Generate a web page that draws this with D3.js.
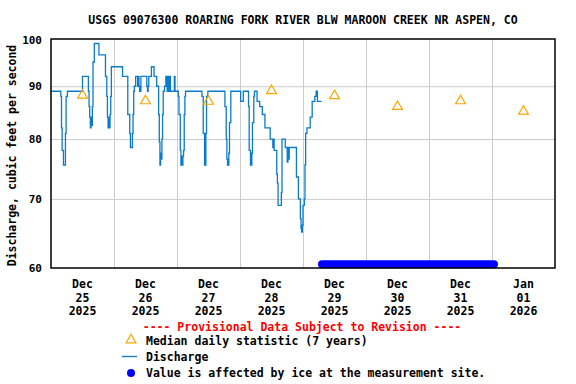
<!DOCTYPE html>
<html>
<head>
<meta charset="utf-8">
<script src="https://cdn.jsdelivr.net/npm/d3@7"></script>
<style>
  body { margin: 0; background: #fff; }
  text { font-family: "DejaVu Sans Mono", "Liberation Mono", monospace; font-weight: bold; }
</style>
</head>
<body>
<svg id="chart" width="576" height="384"></svg>
<script>
// 15-minute discharge, stored as the points where the value changes
var flowTimes = [
    "2025-12-25 00:00","2025-12-25 03:45","2025-12-25 04:00","2025-12-25 04:15","2025-12-25 04:45",
    "2025-12-25 05:30","2025-12-25 05:45","2025-12-25 06:15","2025-12-25 12:00","2025-12-25 14:15",
    "2025-12-25 14:30","2025-12-25 14:45","2025-12-25 15:00","2025-12-25 15:15","2025-12-25 15:30",
    "2025-12-25 15:45","2025-12-25 16:00","2025-12-25 16:30","2025-12-25 18:15","2025-12-25 20:45",
    "2025-12-25 21:15","2025-12-25 21:30","2025-12-25 21:45","2025-12-25 22:00","2025-12-25 22:15",
    "2025-12-25 22:30","2025-12-25 22:45","2025-12-25 23:00",
    "2025-12-26 03:15","2025-12-26 05:15","2025-12-26 06:00","2025-12-26 06:15","2025-12-26 07:00",
    "2025-12-26 07:15","2025-12-26 07:30","2025-12-26 07:45","2025-12-26 08:15","2025-12-26 09:00",
    "2025-12-26 09:15","2025-12-26 09:30","2025-12-26 09:45","2025-12-26 10:15","2025-12-26 12:30",
    "2025-12-26 12:45","2025-12-26 13:00","2025-12-26 13:15","2025-12-26 14:15","2025-12-26 15:15",
    "2025-12-26 16:15","2025-12-26 17:00","2025-12-26 17:15","2025-12-26 17:30","2025-12-26 17:45",
    "2025-12-26 18:00","2025-12-26 18:15","2025-12-26 18:30","2025-12-26 18:45","2025-12-26 19:15",
    "2025-12-26 19:45","2025-12-26 20:15","2025-12-26 20:30","2025-12-26 20:45","2025-12-26 21:00",
    "2025-12-26 21:30","2025-12-26 23:00","2025-12-26 23:15",
    "2025-12-27 00:30","2025-12-27 00:45","2025-12-27 01:15","2025-12-27 01:30","2025-12-27 01:45",
    "2025-12-27 02:00","2025-12-27 02:15","2025-12-27 02:30","2025-12-27 02:45","2025-12-27 03:00",
    "2025-12-27 03:15","2025-12-27 09:30","2025-12-27 10:00","2025-12-27 10:30","2025-12-27 11:00",
    "2025-12-27 11:15","2025-12-27 11:45","2025-12-27 18:15","2025-12-27 18:45","2025-12-27 19:00",
    "2025-12-27 19:15","2025-12-27 19:45","2025-12-27 20:00","2025-12-27 20:30",
    "2025-12-28 00:15","2025-12-28 01:15","2025-12-28 03:15","2025-12-28 03:30","2025-12-28 04:00",
    "2025-12-28 04:30","2025-12-28 04:45","2025-12-28 05:15","2025-12-28 05:30","2025-12-28 06:30",
    "2025-12-28 07:30","2025-12-28 08:30","2025-12-28 09:30","2025-12-28 11:30","2025-12-28 12:30",
    "2025-12-28 12:45","2025-12-28 13:00","2025-12-28 14:00","2025-12-28 14:15","2025-12-28 14:30",
    "2025-12-28 15:45","2025-12-28 16:00","2025-12-28 17:15","2025-12-28 18:00","2025-12-28 18:15",
    "2025-12-28 18:30","2025-12-28 18:45","2025-12-28 21:30","2025-12-28 22:15","2025-12-28 23:00",
    "2025-12-28 23:15","2025-12-28 23:30","2025-12-28 23:45",
    "2025-12-29 00:00","2025-12-29 00:30","2025-12-29 00:45","2025-12-29 01:00","2025-12-29 01:30",
    "2025-12-29 02:45","2025-12-29 03:30","2025-12-29 04:30","2025-12-29 05:00","2025-12-29 05:30",
    "2025-12-29 07:00"
];
var flowValues = [
    89, 88, 82, 78, 75.5,
    81, 88, 89, 92, 89,
    86, 84, 82, 84, 82.5,
    86, 95, 99, 96.5, 92,
    88, 84, 82, 84, 82,
    84.5, 88, 94,
    92, 84.5, 81, 78.5, 81,
    84.5, 89, 90, 92, 90,
    92, 90, 89, 92, 90,
    89, 90, 92, 94, 92,
    90, 84.5, 79.5, 75.5, 77.5,
    76.5, 80, 84.5, 89, 90,
    92, 89, 92, 89, 92,
    89, 92, 89,
    88, 84.5, 78, 75.5, 77,
    75.5, 77, 78, 84.5, 88,
    89, 88, 81, 75.5, 81,
    88, 89, 86, 80, 76.5,
    75.5, 77.5, 83, 89,
    87, 89, 86, 78, 75.5,
    77.5, 83, 88, 89, 87,
    86, 84.5, 82, 80, 78.5,
    80, 78, 74, 72.5, 69,
    71, 80, 78.5, 76, 78.5,
    76.5, 78.5, 73.5, 70, 67,
    65.5, 65, 66,
    69, 70, 75.5, 81, 82,
    84, 87, 88, 89, 87,
    87
];

// median daily statistic (7 years), plotted at noon
var medianDays = ["2025-12-25","2025-12-26","2025-12-27","2025-12-28","2025-12-29","2025-12-30","2025-12-31","2026-01-01"];
var medianValues = [88.2, 87.1, 87.0, 89.1, 88.1, 86.0, 87.1, 85.1];

// period flagged as ice affected
var iceTimes = ["2025-12-29 07:15", "2026-01-01 00:45"];
var iceLevel = 60.5;

var yTicks = [60, 70, 80, 90, 100];
var dayTicks = ["2025-12-25","2025-12-26","2025-12-27","2025-12-28","2025-12-29","2025-12-30","2025-12-31","2026-01-01"];

var parseTime = d3.timeParse("%Y-%m-%d %H:%M");
var parseDay = d3.timeParse("%Y-%m-%d");

var svg = d3.select("#chart");
var margin = {left: 51, right: 21, top: 39, bottom: 116};
var width = 576 - margin.left - margin.right;
var height = 384 - margin.top - margin.bottom;

var x = d3.scaleTime()
    .domain([parseDay("2025-12-25"), parseDay("2026-01-02")])
    .range([0, width]);
var y = d3.scaleLog()
    .domain([60, 100])
    .range([height, 0]);

var g = svg.append("g")
    .attr("transform", "translate(" + margin.left + "," + margin.top + ")");

//Gridlines
var xGrid = g.append("g")
    .attr("transform", "translate(0," + height + ")")
    .call(d3.axisBottom(x).tickValues(dayTicks.slice(1).map(parseDay)).tickSize(-height).tickFormat(""));
xGrid.select(".domain").remove();
xGrid.selectAll("line").attr("stroke", "#cccccc").attr("stroke-width", 1);

var yGrid = g.append("g")
    .call(d3.axisLeft(y).tickValues([70, 80, 90]).tickSize(-width).tickFormat(""));
yGrid.select(".domain").remove();
yGrid.selectAll("line").attr("stroke", "#cccccc").attr("stroke-width", 1);

//Discharge line
var flow = flowTimes.map(function (t, i) {
    return {t: parseTime(t), v: flowValues[i]};
});
var line = d3.line()
    .curve(d3.curveStepAfter)
    .x(function (d) { return x(d.t); })
    .y(function (d) { return y(d.v); });
g.append("path")
    .datum(flow)
    .attr("d", line)
    .attr("fill", "none")
    .attr("stroke", "#0a7bcc")
    .attr("stroke-width", 1.3);

//Ice affected period
var ice = iceTimes.map(function (t) { return {t: parseTime(t), v: iceLevel}; });
g.append("path")
    .datum(ice)
    .attr("d", d3.line().x(function (d) { return x(d.t); }).y(function (d) { return y(d.v); }))
    .attr("stroke", "#0000ff")
    .attr("stroke-width", 8)
    .attr("stroke-linecap", "round");

//Median triangles
var tri = d3.symbol().type(d3.symbolTriangle).size(42);
g.selectAll(".median")
    .data(medianDays)
    .enter()
    .append("path")
    .attr("class", "median")
    .attr("d", tri)
    .attr("transform", function (d, i) {
        return "translate(" + x(d3.timeHour.offset(parseDay(d), 12)) + "," + y(medianValues[i]) + ")";
    })
    .attr("fill", "none")
    .attr("stroke", "#ffa500")
    .attr("stroke-width", 1.2);

//Frame
g.append("rect")
    .attr("x", 0)
    .attr("y", 0)
    .attr("width", width)
    .attr("height", height)
    .attr("fill", "none")
    .attr("stroke", "#000")
    .attr("stroke-width", 1.5);

//Y tick labels
g.selectAll(".ylab")
    .data(yTicks)
    .enter()
    .append("text")
    .attr("x", -9)
    .attr("y", function (d) { return d === 100 ? y(d) + 5 : y(d) + 4; })
    .attr("text-anchor", "end")
    .attr("font-size", "11px")
    .text(function (d) { return d; });

//X tick labels, centred on each day
var fmtMon = d3.timeFormat("%b");
var fmtDay = d3.timeFormat("%d");
var fmtYear = d3.timeFormat("%Y");
var xlab = g.selectAll(".xlab")
    .data(dayTicks.map(parseDay))
    .enter()
    .append("text")
    .attr("text-anchor", "middle")
    .attr("font-size", "11.5px")
    .attr("transform", function (d) {
        return "translate(" + x(d3.timeHour.offset(d, 12)) + "," + (height + 20) + ")";
    });
xlab.append("tspan").attr("x", 0).attr("y", 0).text(function (d) { return fmtMon(d); });
xlab.append("tspan").attr("x", 0).attr("y", 13.5).text(function (d) { return fmtDay(d); });
xlab.append("tspan").attr("x", 0).attr("y", 27).text(function (d) { return fmtYear(d); });

//Title
svg.append("text")
    .attr("x", margin.left + width / 2)
    .attr("y", 24)
    .attr("text-anchor", "middle")
    .attr("font-size", "11.5px")
    .text("USGS 09076300 ROARING FORK RIVER BLW MAROON CREEK NR ASPEN, CO");

//Y axis title
svg.append("text")
    .attr("transform", "translate(16," + (margin.top + height / 2 + 2) + ") rotate(-90)")
    .attr("text-anchor", "middle")
    .attr("font-size", "11.5px")
    .text("Discharge, cubic feet per second");

//Legend
svg.append("text")
    .attr("x", 302)
    .attr("y", 331)
    .attr("text-anchor", "middle")
    .attr("font-size", "11.5px")
    .attr("fill", "#ff0000")
    .text("---- Provisional Data Subject to Revision ----");

var legend = svg.append("g");
legend.append("path")
    .attr("d", tri)
    .attr("transform", "translate(131,340)")
    .attr("fill", "none")
    .attr("stroke", "#ffa500")
    .attr("stroke-width", 1.2);
legend.append("line")
    .attr("x1", 122)
    .attr("x2", 137)
    .attr("y1", 356.5)
    .attr("y2", 356.5)
    .attr("stroke", "#0a7bcc")
    .attr("stroke-width", 1.3);
legend.append("circle")
    .attr("cx", 131)
    .attr("cy", 373)
    .attr("r", 4)
    .attr("fill", "#0000ff");

var legendText = ["Median daily statistic (7 years)", "Discharge", "Value is affected by ice at the measurement site."];
legend.selectAll(".ltext")
    .data(legendText)
    .enter()
    .append("text")
    .attr("x", 146)
    .attr("y", function (d, i) { return 345 + i * 16; })
    .attr("font-size", "11.5px")
    .text(function (d) { return d; });
</script>
</body>
</html>
